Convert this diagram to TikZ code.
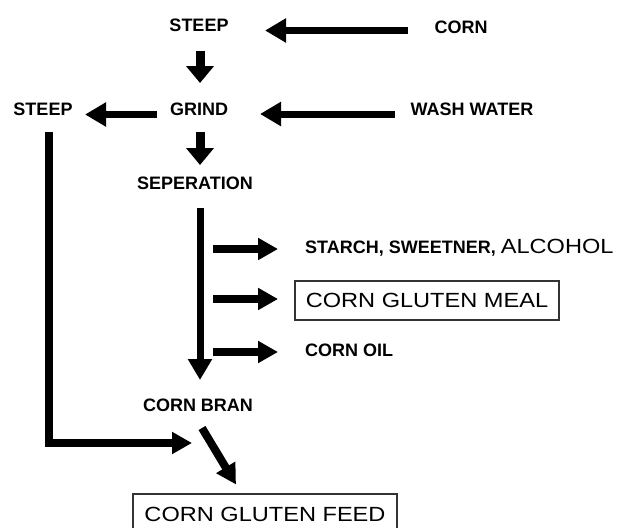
\documentclass[tikz,border=0pt]{standalone}
\usepackage{fontspec}
\setmainfont{Liberation Sans}
\newfontfamily\widefont[FakeStretch=1.15]{Liberation Sans}
\usetikzlibrary{arrows.meta,calc}
\begin{document}
\begin{tikzpicture}[x=1pt,y=-1pt,
  lbl/.style={inner sep=0pt,font=\fontsize{18}{20}\selectfont\bfseries},
  bigbox/.style={draw=black!80,line width=1.2pt,inner sep=0pt,minimum width=264pt,
     font=\widefont\fontsize{20.5}{24}\selectfont},
  arr/.style={line width=7pt,-{Triangle[length=21pt,width=23pt]}},
  darr/.style={line width=9pt,-{Triangle[length=17pt,width=27pt]}},
  sarr/.style={line width=8pt,-{Triangle[length=20pt,width=21pt]}}]
\clip (0,0) rectangle (620,527);
\fill[white] (0,0) rectangle (620,527);
% nodes
\node[lbl] (steepA) at (199,25) {STEEP};
\node[lbl] (corn) at (461,27) {CORN};
\node[lbl] (grind) at (199,109) {GRIND};
\node[lbl] (steepB) at (43,109) {STEEP};
\node[lbl] (wash) at (472,109) {WASH WATER};
\node[lbl] (sep) at (195,183) {SEPERATION};
\node[lbl,anchor=base west] (starch) at (305,253) {STARCH, SWEETNER, {\mdseries\widefont\fontsize{20.5}{24}\selectfont ALCOHOL}};
\node[bigbox,minimum height=39pt] (meal) at (427,300.5) {CORN GLUTEN MEAL};
\node[lbl,anchor=west] (oil) at (305,350) {CORN OIL};
\node[lbl] (bran) at (198,405) {CORN BRAN};
\node[bigbox,minimum height=41pt] (feed) at (265,514.5) {CORN GLUTEN FEED};
% connectors
\draw[arr] ($(corn)+(-53,3.5)$) -- ($(steepA)+(66,5.5)$);
\draw[darr] ($(steepA)+(1,26)$) -- ($(grind)+(1,-26)$);
\draw[arr] ($(grind)+(-42,5.5)$) -- ($(steepB)+(42,5.5)$);
\draw[arr] ($(wash)+(-77,5)$) -- ($(grind)+(61,5)$);
\draw[darr] ($(grind)+(1,23)$) -- ($(sep)+(5,-18)$);
\draw[arr] ($(sep)+(5,25)$) -- ($(bran)+(2,-25)$);
\draw[sarr] ($(sep)+(18,66)$) -- ($(starch.base west)+(-27,-4)$);
\draw[sarr] ($(sep)+(18,116)$) -- ($(meal)+(-149,-1.5)$);
\draw[sarr] ($(sep)+(18,169)$) -- ($(oil.west)+(-27,2)$);
\draw[sarr] ($(steepB)+(6,23)$) |- ($(feed)+(-73,-71.5)$);
\draw[sarr] ($(bran)+(4,23)$) -- ($(feed)+(-29,-30)$);
\end{tikzpicture}
\end{document}
